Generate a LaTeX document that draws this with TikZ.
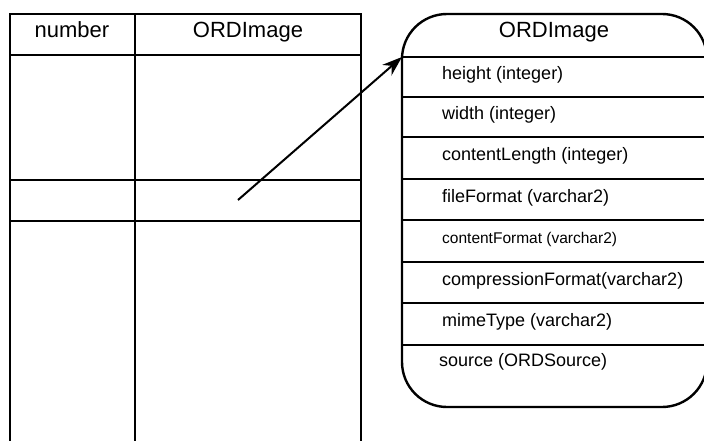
\documentclass[tikz,border=0pt]{standalone}
\usepackage{fontspec}
\setmainfont{Liberation Sans}
\usetikzlibrary{arrows.meta}
\tikzstyle{frame}=[line width=2.4pt]
\tikzstyle{grid} =[line width=1.6pt]
\tikzstyle{head} =[inner sep=0pt, text height=0.75em, text depth=0.2em,
                   font=\fontsize{22}{24}\selectfont]
\tikzstyle{field}=[anchor=west, inner sep=0pt, text height=0.75em,
                   text depth=0.22em, font=\fontsize{18}{20}\selectfont]
\tikzstyle{link} =[line width=2pt, -{Stealth[length=20pt,width=14pt]}]

\begin{document}
\begin{tikzpicture}[x=1pt,y=-1pt]
    \useasboundingbox (0,0) rectangle (704,441);
    \clip (0,0) rectangle (704,441);

            % table with the image column
            \draw [frame] (10,470) -- (10,14) -- (361,14) -- (361,470);
            \draw [grid] (135,14) -- (135,470);
            \foreach \y in {55,180,221}
                \draw [grid] (10,\y) -- (361,\y);
            \node[head] (colnum) at (72,35) {number};
            \node[head] (colimg) at (248,35) {ORDImage};

            % the ORDImage object
            \draw [frame, rounded corners=45pt] (402,14) rectangle (707,407);
            \foreach \y in {57,97,137,179,220,262,303,345}
                \draw [grid] (402,\y) -- (707,\y);
            \node[head] (objname) at (554,35) {ORDImage};

            \foreach \y/\txt [count=\i] in
                {77/height (integer),117/width (integer),
                158/contentLength (integer),200/fileFormat (varchar2),
                283/compressionFormat(varchar2),324/mimeType (varchar2)}
                \node[field] (f\i) at (442,\y) {\txt};
            \node[field, font=\fontsize{15.5}{17}\selectfont]
                (fcf) at (442,241) {contentFormat (varchar2)};
            \node[field] (fsrc) at (439,364) {source (ORDSource)};

            % reference from the cell to the object
            \coordinate (cell) at (238,200);
            \coordinate (objhead) at (402,57);
            \draw [link] (cell) -- (objhead);

\end{tikzpicture}
\end{document}
